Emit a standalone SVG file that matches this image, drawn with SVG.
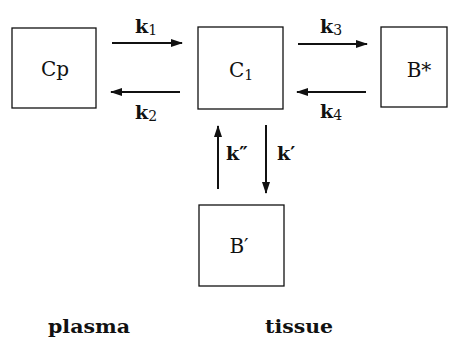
<svg xmlns="http://www.w3.org/2000/svg" width="450" height="337" viewBox="0 0 450 337">
  <style>
    .box { fill: #fff; stroke: #111; stroke-width: 1.3; }
    .lbl { font-family: "DejaVu Serif", "Liberation Serif", serif; font-size: 20px; fill: #111; }
    .k { font-family: "DejaVu Serif", "Liberation Serif", serif; font-size: 19px; fill: #111; font-weight: bold; }
    .sub { font-size: 14px; font-weight: normal; }
    .foot { font-family: "DejaVu Serif", "Liberation Serif", serif; font-size: 18px; font-weight: bold; fill: #111; }
    .arr { stroke: #111; stroke-width: 2; fill: none; marker-end: url(#head); }
  </style>
  <defs>
    <marker id="head" viewBox="0 0 12 8" refX="11" refY="4" markerWidth="12" markerHeight="8" markerUnits="userSpaceOnUse" orient="auto">
      <path d="M0,0 L12,4 L0,8 Z" fill="#111"/>
    </marker>
  </defs>
  <rect width="450" height="337" fill="#fff"/>

  <g id="cp">
    <rect class="box" x="12" y="28" width="84" height="80"/>
    <text class="lbl" x="55" y="76" text-anchor="middle">Cp</text>
  </g>
  <g id="c1">
    <rect class="box" x="198" y="27" width="85" height="82"/>
    <text class="lbl" x="241" y="77" text-anchor="middle">C<tspan class="sub" dy="3">1</tspan></text>
  </g>
  <g id="bstar">
    <rect class="box" x="381" y="27" width="66" height="80"/>
    <text class="lbl" x="419" y="77" text-anchor="middle">B*</text>
  </g>
  <g id="bprime">
    <rect class="box" x="199" y="205" width="85" height="81"/>
    <text class="lbl" x="239" y="253" text-anchor="middle">B′</text>
  </g>

  <g id="connectors">
    <line class="arr" x1="112" y1="43" x2="182" y2="43"/>
    <line class="arr" x1="180" y1="92" x2="111" y2="92"/>
    <line class="arr" x1="298" y1="44" x2="367" y2="44"/>
    <line class="arr" x1="366" y1="92" x2="297" y2="92"/>
    <line class="arr" x1="218" y1="189" x2="218" y2="126"/>
    <line class="arr" x1="266" y1="125" x2="266" y2="193"/>
  </g>

  <g id="rates">
    <text class="k" x="135" y="33">k<tspan class="sub" dy="2">1</tspan></text>
    <text class="k" x="135" y="119">k<tspan class="sub" dy="2">2</tspan></text>
    <text class="k" x="320" y="33">k<tspan class="sub" dy="2">3</tspan></text>
    <text class="k" x="320" y="118">k<tspan class="sub" dy="2">4</tspan></text>
    <text class="k" x="226" y="160">k″</text>
    <text class="k" x="277" y="160">k′</text>
  </g>

  <g id="regions">
    <text class="foot" x="89" y="333" text-anchor="middle" textLength="82" lengthAdjust="spacingAndGlyphs">plasma</text>
    <text class="foot" x="299" y="333" text-anchor="middle" textLength="68" lengthAdjust="spacingAndGlyphs">tissue</text>
  </g>
</svg>
